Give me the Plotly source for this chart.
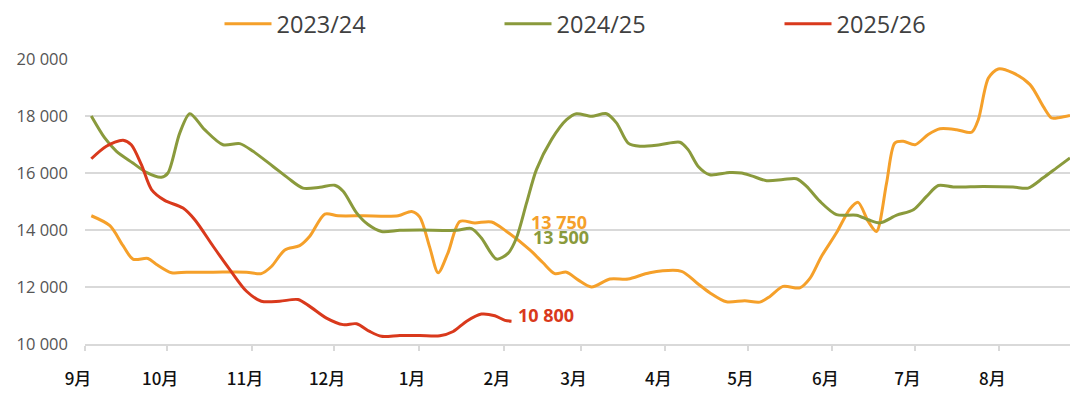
import pandas as pd
import plotly.graph_objects as go

# ---- data (day offset from 1 Sep of the season, value) ----
season_start = pd.Timestamp("2022-09-01")

days_2324 = [2.3, 9.1, 13.9, 17.5, 23, 26, 31.6, 37.1, 46.8, 59, 64.4, 68.1, 73, 78.4, 82.1, 87.6,
             92.4, 101.6, 114.4, 119.3, 122.3, 125.9, 129, 132.6, 136.9, 142.4, 148.5, 154, 162.5,
             167.3, 171.6, 175.9, 180.1, 185, 191.7, 198.4, 206.3, 217.9, 223.4, 228.2, 234.3, 241,
             246.5, 250.2, 255, 261.1, 264.8, 269, 274.5, 279.4, 282.4, 286.1, 289.1, 292.8, 295.8,
             298.9, 303.2, 308, 312.3, 318.4, 323.9, 326.3, 330, 333.6, 339, 345.2, 350, 353.1,
             356.1, 359.8]
vals_2324 = [14500, 14150, 13450, 12980, 13000, 12800, 12500, 12520, 12520, 12520, 12470, 12720,
             13300, 13450, 13780, 14560, 14500, 14500, 14500, 14650, 14450, 13400, 12500, 13200,
             14300, 14250, 14280, 13950, 13300, 12850, 12470, 12520, 12250, 12000, 12280, 12280,
             12500, 12550, 12150, 11800, 11480, 11520, 11470, 11670, 12020, 11970, 12300, 13070,
             13900, 14740, 14970, 14300, 13950, 15650, 17050, 17110, 16990, 17350, 17550, 17520,
             17430, 17870, 19330, 19650, 19510, 19100, 18340, 17930, 17950, 18020]

days_2425 = [2.3, 7.2, 11.5, 17.5, 22.4, 27.9, 30.3, 34.6, 38.3, 43.7, 50.4, 56.5, 61.4, 68.7,
             74.2, 79.6, 85.8, 91.2, 94.3, 99.2, 103.4, 108.3, 115, 122.3, 135.7, 141.2, 144.8,
             150.3, 154.6, 157.6, 161.3, 164.9, 170.4, 175.9, 179.5, 185, 190.5, 194.2, 198.4,
             202.7, 210, 217.3, 220.3, 224, 228.2, 235.5, 239.8, 243.5, 249, 255, 259.9, 263.6,
             268.4, 274.5, 281.8, 286.1, 290.4, 296.5, 302.6, 307.4, 311.7, 317.2, 328.1, 339,
             344.5, 350, 354.9, 359.8]
vals_2425 = [18000, 17230, 16760, 16350, 16020, 15850, 16000, 17400, 18080, 17520, 16990, 17030,
             16760, 16230, 15820, 15470, 15500, 15570, 15360, 14600, 14190, 13950, 13990, 14000,
             13990, 14050, 13720, 12980, 13190, 13720, 14950, 16120, 17170, 17870, 18080, 17990,
             18080, 17750, 17050, 16940, 16990, 17080, 16820, 16230, 15940, 16020, 16000, 15900,
             15730, 15770, 15800, 15530, 15010, 14540, 14520, 14360, 14250, 14520, 14710, 15180,
             15560, 15510, 15530, 15510, 15470, 15830, 16180, 16530]

days_2526 = [2.3, 7.8, 13.9, 16.9, 20.6, 24.3, 29.1, 35.8, 40.1, 46.8, 52.9, 59, 64.4, 71.1, 77.8,
             82.1, 88.2, 94.3, 99.2, 104, 108.3, 115, 122.3, 129.6, 134.5, 139.4, 144.8, 149.7,
             153.4, 155.8]
vals_2526 = [16500, 16940, 17150, 16990, 16290, 15420, 15040, 14770, 14360, 13430, 12610, 11850,
             11500, 11500, 11560, 11320, 10910, 10680, 10710, 10440, 10270, 10300, 10300, 10290,
             10440, 10800, 11050, 10990, 10830, 10800]

series_names = ["2023/24", "2024/25", "2025/26"]
series_colors = ["#F5A02A", "#8A9A3C", "#D9391C"]
latest_values = [13750, 13500, 10800]

month_labels = ["9月", "10月", "11月", "12月", "1月", "2月", "3月", "4月", "5月", "6月", "7月", "8月"]
y_ticks = [10000, 12000, 14000, 16000, 18000, 20000]


def to_dates(days):
    return [season_start + pd.Timedelta(days=d) for d in days]


fig = go.Figure()
for name, color, d, v in zip(series_names, series_colors,
                             [days_2324, days_2425, days_2526],
                             [vals_2324, vals_2425, vals_2526]):
    fig.add_trace(go.Scatter(x=to_dates(d), y=v, name=name, mode="lines",
                             line=dict(color=color, width=3, shape="spline", smoothing=0.8)))

# end labels at the current date
current = season_start + pd.Timedelta(days=days_2526[-1])
label_shift = [(17, 15), (19, 7), (4, 6)]
for val, color, (dx, dy) in zip(latest_values, series_colors, label_shift):
    fig.add_annotation(x=current, y=val, text=f"{val:,}".replace(",", " "),
                       showarrow=False, xanchor="left", yanchor="middle",
                       xshift=dx, yshift=dy,
                       font=dict(family="Open Sans", size=18, color=color, weight="bold"))

month_starts = [season_start + pd.DateOffset(months=i) for i in range(12)]

fig.update_layout(
    width=1072, height=390,
    margin=dict(l=77.3, r=10, t=51.3, b=53.5, autoexpand=False),
    paper_bgcolor="white", plot_bgcolor="white",
    showlegend=True,
    legend=dict(orientation="h", xref="container", yref="container",
                x=0.1973, xanchor="left", y=0.959, yanchor="middle",
                font=dict(family="Open Sans", size=23.5, color="#404040"),
                entrywidth=218, itemwidth=47, bgcolor="rgba(0,0,0,0)"),
    xaxis=dict(type="date", automargin=False,
               range=[season_start, season_start + pd.Timedelta(days=359.8)],
               tickvals=month_starts, ticktext=month_labels,
               showgrid=False, showline=True, linecolor="#d9d9d9", linewidth=1.5,
               ticks="outside", ticklen=5, tickcolor="#d9d9d9", tickwidth=1.5,
               ticklabelshift=-7, ticklabelstandoff=14,
               tickfont=dict(family="Noto Sans CJK SC", size=17, color="#111111", weight=500)),
    yaxis=dict(range=[10000, 20000], tickvals=y_ticks, automargin=False,
               ticktext=[f"{t:,}".replace(",", " ") for t in y_ticks],
               showgrid=True, gridcolor="#d9d9d9", gridwidth=1.5,
               zeroline=False, ticks="", ticklabelstandoff=16,
               tickfont=dict(family="Open Sans", size=16.5, color="#555555")),
)

fig.write_html("out.html")
